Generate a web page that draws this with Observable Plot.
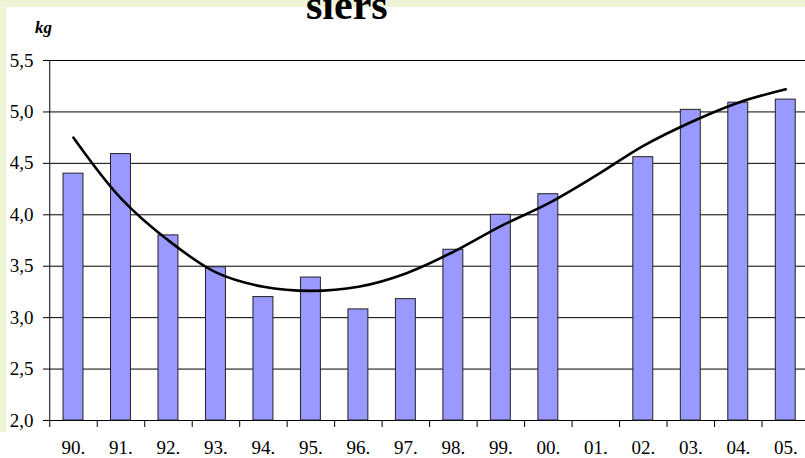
<!DOCTYPE html>
<html>
<head>
<meta charset="utf-8">
<script src="https://cdn.jsdelivr.net/npm/d3@7"></script>
<script src="https://cdn.jsdelivr.net/npm/@observablehq/plot@0.6"></script>
<style>
  body { margin: 0; background: #ffffff; }
  #wrap { position: relative; width: 805px; height: 458px; overflow: hidden; font-family: "Liberation Serif", "Times New Roman", serif; color: #000; }
  .bg { position: absolute; background: #eef4d6; }
  #title { position: absolute; left: 306px; top: -16px; font-size: 42px; line-height: 42px; font-weight: bold; white-space: nowrap; }
  #unit { position: absolute; left: 35px; top: 19px; font-size: 17px; line-height: 17px; font-weight: bold; font-style: italic; }
  #chart { position: absolute; left: 0; top: 0; }
</style>
</head>
<body>
<div id="wrap">
  <div class="bg" style="left:0;top:0;width:805px;height:7px;"></div>
  <div class="bg" style="left:0;top:0;width:6px;height:432px;"></div>
  <div id="chart"></div>
  <div id="title">siers</div>
  <div id="unit">kg</div>
</div>
<script>
// Categories (years)
const years = ["90.", "91.", "92.", "93.", "94.", "95.", "96.", "97.", "98.", "99.", "00.", "01.", "02.", "03.", "04.", "05."];
// Bar values (kg); 2001 has no bar
const kgValues = [4.40, 4.59, 3.80, 3.49, 3.20, 3.39, 3.08, 3.18, 3.66, 4.00, 4.20, null, 4.56, 5.02, 5.09, 5.12];
// Trend line values
const trendValues = [4.75, 4.16, 3.75, 3.44, 3.30, 3.26, 3.30, 3.43, 3.64, 3.89, 4.11, 4.38, 4.67, 4.90, 5.09, 5.22];
// Y ticks
const yTicks = [2.0, 2.5, 3.0, 3.5, 4.0, 4.5, 5.0, 5.5];
const yDomain = [2, 5.5];

const data = years.map((year, i) => ({ year, kg: kgValues[i], trend: trendValues[i] }));

const xRange = [49.25, 809];
const step = (xRange[1] - xRange[0]) / years.length;

const chart = Plot.plot({
  width: 805,
  height: 458,
  marginLeft: 49,
  marginRight: 0,
  marginTop: 60,
  marginBottom: 38,
  style: { background: "transparent", fontFamily: "'Liberation Serif', 'Times New Roman', serif", fontSize: "19px", color: "#000" },
  x: { domain: years, range: xRange, paddingInner: 0.58, paddingOuter: 0.29, round: false, label: null },
  y: { domain: yDomain, range: [420, 60], label: null },
  marks: [
    Plot.ruleY(yTicks, { y: d => d, stroke: "#000", strokeWidth: 1 }),
    Plot.ruleX([years[0]], { x: d => d, y1: () => yDomain[0], y2: () => yDomain[1], dx: -step / 2, stroke: "#000", strokeWidth: 1 }),
    Plot.barY(data.filter(d => d.kg != null), { x: "year", y1: () => yDomain[0], y2: "kg", fill: "#9999ff", stroke: "#222", strokeWidth: 1 }),
    Plot.line(data, { x: "year", y: "trend", stroke: "#000", strokeWidth: 2.6, curve: "catmull-rom" }),
    Plot.axisY({ ticks: yTicks, tickSize: 6, tickPadding: 10, tickFormat: d => d.toFixed(1).replace(".", ","), fontSize: 19, label: null, stroke: "#000" }),
    Plot.axisX({ tickSize: 0, tickPadding: 20, fontSize: 19, label: null }),
    Plot.axisX({ tickSize: 7, tickFormat: () => "", dx: -step / 2, label: null, stroke: "#000" })
  ]
});
document.getElementById("chart").appendChild(chart);
</script>
</body>
</html>
